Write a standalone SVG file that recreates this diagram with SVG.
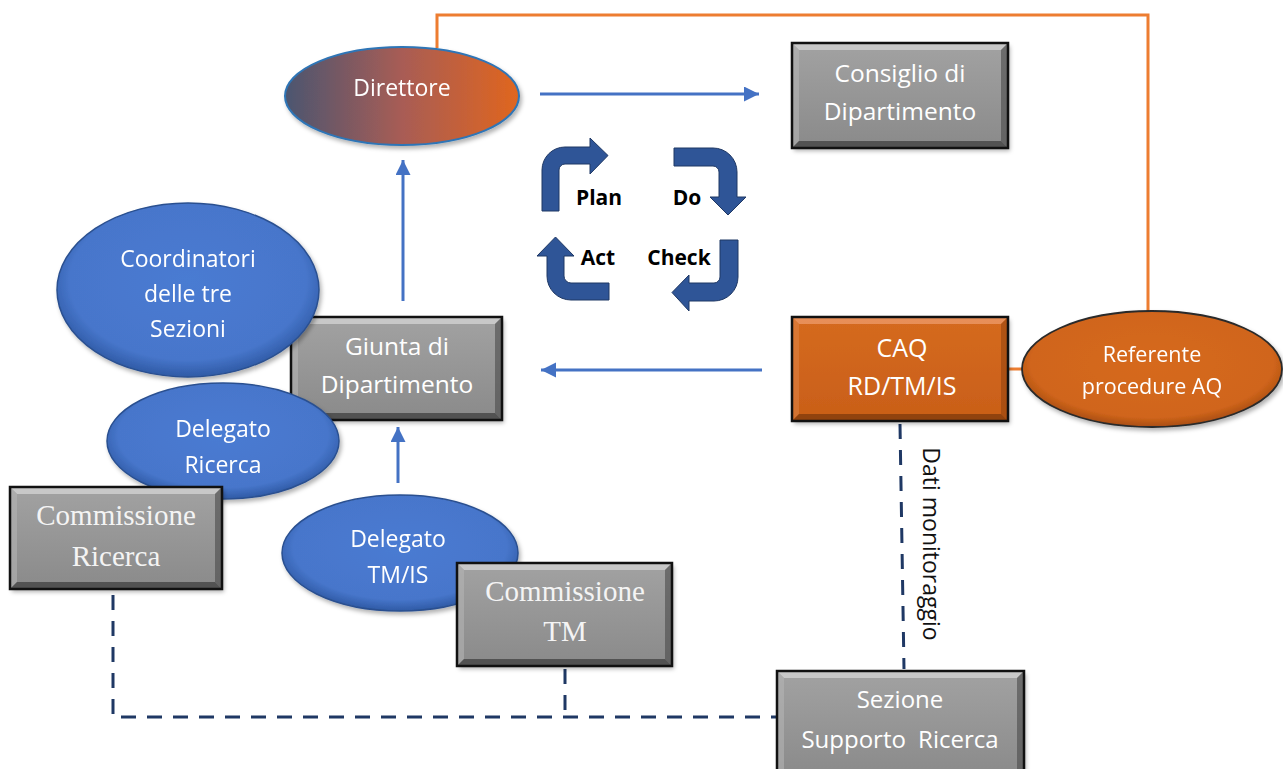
<svg xmlns="http://www.w3.org/2000/svg" width="1283" height="769" viewBox="0 0 1283 769">
<defs>
<style>
.t{font-family:"Open Sans","Noto Sans","Liberation Sans",sans-serif;fill:#ffffff;text-anchor:middle}
.s{font-family:"Liberation Serif","DejaVu Serif",serif;fill:#f4f4f4;text-anchor:middle;font-size:29px}
.pd{font-family:"Open Sans","Noto Sans","Liberation Sans",sans-serif;font-weight:bold;font-size:21px;fill:#000;text-anchor:middle}
.gray{fill:url(#gGray)}
.orng{fill:url(#gOrange)}
.edge{fill:none;stroke:#111;stroke-width:2.5}
.bt{fill:#d2d2d2;opacity:.8}
.bl{fill:#b4b4b4;opacity:.6}
.br{fill:#4a4a4a;opacity:.6}
.bb{fill:#3a3a3a;opacity:.7}
.ot{fill:#f0a070;opacity:.7}
.ol{fill:#e0864a;opacity:.5}
.or{fill:#8a3e0c;opacity:.5}
.ob{fill:#6a300a;opacity:.6}
.blue{fill:url(#gBlue);stroke:#2a5090;stroke-width:1.5}
.blink{stroke:#4472C4;stroke-width:3;fill:none}
.orl{stroke:#ED7D31;stroke-width:3;fill:none}
.dash{stroke:#1F3864;stroke-width:3;fill:none;stroke-dasharray:15 11}
.pdca{fill:#2F5597;stroke:#1F3864;stroke-width:1}
</style>
<linearGradient id="gGray" x1="0" y1="0" x2="0" y2="1">
<stop offset="0" stop-color="#a2a2a2"/>
<stop offset="1" stop-color="#8a8a8a"/>
</linearGradient>
<linearGradient id="gOrange" x1="0" y1="0" x2="0" y2="1">
<stop offset="0" stop-color="#d56a20"/>
<stop offset="1" stop-color="#c95f18"/>
</linearGradient>
<radialGradient id="gBlue" cx="0.5" cy="0.45" r="0.55">
<stop offset="0" stop-color="#4a7bd2"/>
<stop offset="0.82" stop-color="#4776cb"/>
<stop offset="1" stop-color="#2f5aa5"/>
</radialGradient>
<radialGradient id="gRef" cx="0.5" cy="0.45" r="0.55">
<stop offset="0" stop-color="#d6691d"/>
<stop offset="0.85" stop-color="#d0651b"/>
<stop offset="1" stop-color="#a84d12"/>
</radialGradient>
<linearGradient id="gDir" x1="0" y1="0" x2="1" y2="0">
<stop offset="0" stop-color="#4b5670"/>
<stop offset="0.5" stop-color="#a85c55"/>
<stop offset="1" stop-color="#e0661e"/>
</linearGradient>
<filter id="sh" x="-10%" y="-10%" width="125%" height="130%">
<feDropShadow dx="2" dy="3" stdDeviation="2" flood-color="#000" flood-opacity="0.3"/>
</filter>
<marker id="ah" markerUnits="userSpaceOnUse" markerWidth="16" markerHeight="16" refX="15" refY="7.5" orient="auto">
<path d="M0,0 L15,7.5 L0,15 z" fill="#4472C4"/>
</marker>
</defs>

<g id="connectors">
<path class="orl" d="M437,48 L437,15 L1148,15 L1148,312"/>
<path class="orl" d="M1007,369 L1024,369"/>
<path class="blink" d="M540,94 L759,94" marker-end="url(#ah)"/>
<path class="blink" d="M403,301 L403,160" marker-end="url(#ah)"/>
<path class="blink" d="M762,370 L541,370" marker-end="url(#ah)"/>
<path class="blink" d="M398,483 L398,427" marker-end="url(#ah)"/>
<path class="dash" d="M113,595 L113,717 L776,717"/>
<path class="dash" d="M565,669 L565,717"/>
<path class="dash" d="M900,424 L904,669"/>
<text x="923" y="544" transform="rotate(90 923 544)" style="font-family:'Open Sans','Noto Sans',sans-serif;font-size:23px;fill:#111;text-anchor:middle">Dati monitoraggio</text>
</g>

<g id="pdca">
<path class="pdca" d="M542,211 L542,170 A23,23 0 0 1 565,147 L590,147 L590,138 L608,155.5 L590,174 L590,164 L565,164 A6,6 0 0 0 559,170 L559,211 Z"/>
<path class="pdca" d="M674,148 L713,148 A24,24 0 0 1 737,172 L737,197 L746,197 L728,215 L710,197 L719,197 L719,172 A6,6 0 0 0 713,166 L674,166 Z"/>
<path class="pdca" d="M720,240 L738,240 L738,277 A24,24 0 0 1 714,301 L689,301 L689,311 L672,292.5 L689,275 L689,283 L714,283 A6,6 0 0 0 720,277 Z"/>
<path class="pdca" d="M609,283 L609,300 L571,300 A24,24 0 0 1 547,276 L547,256 L537,256 L555.5,237 L574,256 L564,256 L564,276 A7,7 0 0 0 571,283 Z"/>
<text class="pd" x="599" y="205">Plan</text>
<text class="pd" x="687" y="205">Do</text>
<text class="pd" x="598" y="265">Act</text>
<text class="pd" x="679" y="265">Check</text>
</g>

<g id="direttore" filter="url(#sh)">
<ellipse cx="402" cy="96" rx="117" ry="49" fill="url(#gDir)" stroke="#2e75b6" stroke-width="2"/>
<text class="t" x="402" y="96" font-size="23">Direttore</text>
</g>

<g id="consiglio">
<rect class="gray" x="792" y="43" width="216" height="105" filter="url(#sh)"/>
<polygon class="bt" points="792,43 1008,43 1001,50 799,50"/>
<polygon class="bl" points="792,43 799,50 799,141 792,148"/>
<polygon class="br" points="1008,43 1008,148 1001,141 1001,50"/>
<polygon class="bb" points="792,148 799,141 1001,141 1008,148"/>
<rect class="edge" x="792" y="43" width="216" height="105"/>
<text class="t" x="900" y="82" font-size="24.5">Consiglio di</text>
<text class="t" x="900" y="120" font-size="24.5">Dipartimento</text>
</g>

<g id="giunta">
<rect class="gray" x="291" y="317" width="211" height="103" filter="url(#sh)"/>
<polygon class="bt" points="291,317 502,317 495,324 298,324"/>
<polygon class="bl" points="291,317 298,324 298,413 291,420"/>
<polygon class="br" points="502,317 502,420 495,413 495,324"/>
<polygon class="bb" points="291,420 298,413 495,413 502,420"/>
<rect class="edge" x="291" y="317" width="211" height="103"/>
<text class="t" x="397" y="355" font-size="24.5">Giunta di</text>
<text class="t" x="397" y="393" font-size="24.5">Dipartimento</text>
</g>

<g id="coordinatori" filter="url(#sh)">
<ellipse class="blue" cx="188" cy="290" rx="131" ry="87"/>
<text class="t" x="188" y="267" font-size="23">Coordinatori</text>
<text class="t" x="188" y="302" font-size="23">delle tre</text>
<text class="t" x="188" y="337" font-size="23">Sezioni</text>
</g>

<g id="delegato-ricerca" filter="url(#sh)">
<ellipse class="blue" cx="223" cy="441" rx="116" ry="58"/>
<text class="t" x="223" y="437" font-size="23">Delegato</text>
<text class="t" x="223" y="473" font-size="23">Ricerca</text>
</g>

<g id="commissione-ricerca">
<rect class="gray" x="10" y="487" width="212" height="102" filter="url(#sh)"/>
<polygon class="bt" points="10,487 222,487 215,494 17,494"/>
<polygon class="bl" points="10,487 17,494 17,582 10,589"/>
<polygon class="br" points="222,487 222,589 215,582 215,494"/>
<polygon class="bb" points="10,589 17,582 215,582 222,589"/>
<rect class="edge" x="10" y="487" width="212" height="102"/>
<text class="s" x="116" y="525">Commissione</text>
<text class="s" x="116" y="566">Ricerca</text>
</g>

<g id="delegato-tmis" filter="url(#sh)">
<ellipse class="blue" cx="400" cy="553" rx="118" ry="58"/>
<text class="t" x="398" y="547" font-size="23">Delegato</text>
<text class="t" x="398" y="583" font-size="23">TM/IS</text>
</g>

<g id="commissione-tm">
<rect class="gray" x="457" y="563" width="215" height="103" filter="url(#sh)"/>
<polygon class="bt" points="457,563 672,563 665,570 464,570"/>
<polygon class="bl" points="457,563 464,570 464,659 457,666"/>
<polygon class="br" points="672,563 672,666 665,659 665,570"/>
<polygon class="bb" points="457,666 464,659 665,659 672,666"/>
<rect class="edge" x="457" y="563" width="215" height="103"/>
<text class="s" x="565" y="601">Commissione</text>
<text class="s" x="565" y="641">TM</text>
</g>

<g id="caq">
<rect class="orng" x="792" y="317" width="216" height="104" filter="url(#sh)"/>
<polygon class="ot" points="792,317 1008,317 1001,324 799,324"/>
<polygon class="ol" points="792,317 799,324 799,414 792,421"/>
<polygon class="or" points="1008,317 1008,421 1001,414 1001,324"/>
<polygon class="ob" points="792,421 799,414 1001,414 1008,421"/>
<rect class="edge" x="792" y="317" width="216" height="104"/>
<text class="t" x="902" y="357" font-size="25">CAQ</text>
<text class="t" x="902" y="395" font-size="25">RD/TM/IS</text>
</g>

<g id="referente" filter="url(#sh)">
<ellipse cx="1152" cy="369" rx="130" ry="58" fill="url(#gRef)" stroke="#2a2a2a" stroke-width="1.8"/>
<text class="t" x="1152" y="362" font-size="21.5">Referente</text>
<text class="t" x="1152" y="394" font-size="21.5">procedure AQ</text>
</g>

<g id="sezione">
<rect class="gray" x="777" y="671" width="247" height="106" filter="url(#sh)"/>
<polygon class="bt" points="777,671 1024,671 1017,678 784,678"/>
<polygon class="bl" points="777,671 784,678 784,770 777,777"/>
<polygon class="br" points="1024,671 1024,777 1017,770 1017,678"/>
<rect class="edge" x="777" y="671" width="247" height="106"/>
<text class="t" x="900" y="708" font-size="24">Sezione</text>
<text class="t" x="900" y="748" font-size="24" word-spacing="6">Supporto Ricerca</text>
</g>
</svg>
